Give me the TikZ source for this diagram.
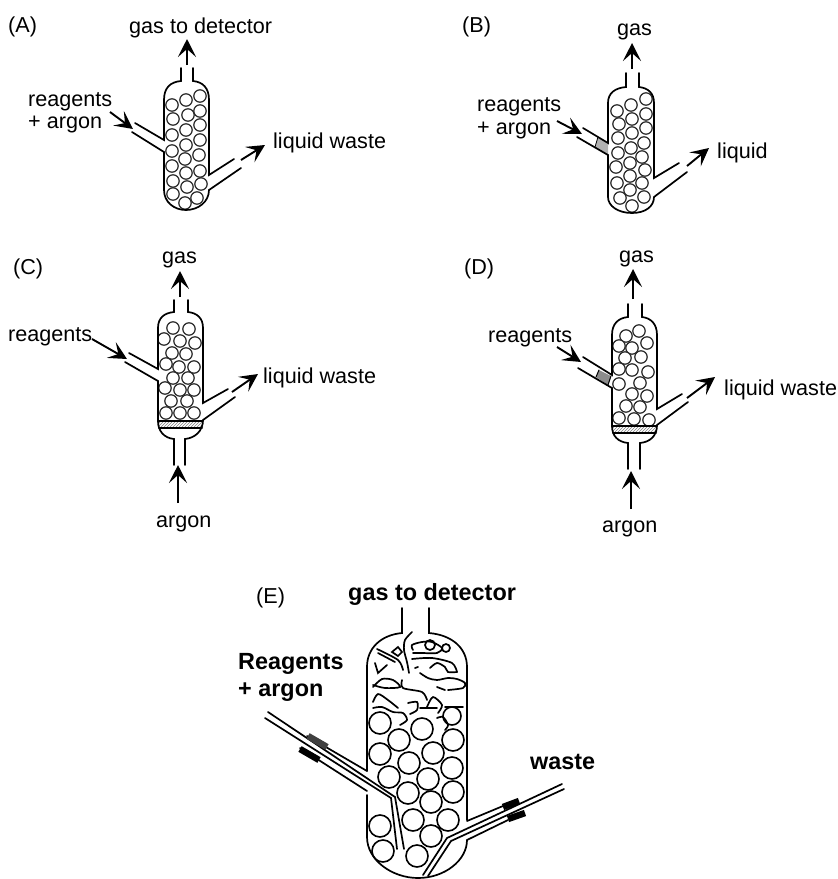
\documentclass[tikz,border=0pt]{standalone}
\usepackage{fontspec}
\setmainfont{Liberation Sans}
\usetikzlibrary{
  arrows.meta,
  patterns
}
\tikzset{
  wall/.style={draw, line width=1.7pt, line cap=round},
  bead/.style={draw=black!85, line width=1.2pt, fill=white},
  bigbead/.style={draw, line width=1.6pt},
  scrap/.style={draw, line width=1.7pt, line cap=round},
  sleeve/.style={draw, line width=6.5pt},
  flow/.style={-{Stealth[length=18pt, width=18pt, inset=8pt]}, line width=1.9pt},
  frit/.style={pattern=north east lines, pattern color=black!50},
  lbl/.style={anchor=base west, inner sep=0pt, font=\fontsize{21.6}{24}\selectfont},
  lblbold/.style={anchor=base west, inner sep=0pt, font=\fontsize{23.4}{26}\selectfont\bfseries}
}

\begin{document}
\begin{tikzpicture}[x=1pt, y=-1pt]
  \useasboundingbox (0,0) rectangle (838,879);

  % (A)
  \node[lbl] (panelA) at (8,32) {(A)};
  \node[lbl] (gasA) at (129,33) {gas to detector};
  \node[lbl] (reagA) at (28,106) {reagents};
  \node[lbl] (argA) at (28,128) {+ argon};
  \node[lbl] (wasteA) at (273,148) {liquid waste};
  \foreach \x/\y in {172/105,186/100,200/96,173/119,188/115,200/111,172/135,186/130,200/125,172/151,186/145,200/140,172/166,185/159,199/155,173/181,186/173,200/171,173/194,187/187,201/184,197/198,185/203}
    \draw[bead] (\x,\y) circle[radius=6.2pt];
  \draw[wall] (181,68) -- (181,81) .. controls (170,82) and (164,88) .. (164,100) -- (164,140) -- (135,123);
  \draw[wall] (132,132) -- (164,152) -- (164,190) .. controls (164,202) and (174,210) .. (186,210) .. controls (198,210) and (209,202) .. (209,190) -- (241,168);
  \draw[wall] (193,68) -- (193,81) .. controls (203,82) and (209,88) .. (209,100) -- (209,175) -- (234,159);
  \coordinate (a1) at (187,65);
  \coordinate (a2) at (187,39);
  \coordinate (a3) at (110,112);
  \coordinate (a4) at (133,129);
  \coordinate (a5) at (241,160);
  \coordinate (a6) at (265,145);
  \draw[flow] (a1) -- (a2);
  \draw[flow] (a3) -- (a4);
  \draw[flow] (a5) -- (a6);

  % (B)
  \node[lbl] (panelB) at (462,32) {(B)};
  \node[lbl] (gasB) at (617,35) {gas};
  \node[lbl] (reagB) at (477,111) {reagents};
  \node[lbl] (argB) at (477,134) {+ argon};
  \node[lbl] (wasteB) at (717,158) {liquid};
  \foreach \x/\y in {617/111,631/105,646/99,619/124,632/119,646/114,618/138,632/133,646/128,618/153,631/148,644/143,616/167,630/163,642/157,617/183,630/176,645/170,620/198,630/190,642/183,644/197,632/206}
    \draw[bead] (\x,\y) circle[radius=6.2pt];
  \fill[black!30] (598,137) -- (608,143) -- (608,155) -- (595,147) -- cycle;
  \draw[line width=0.8pt] (598,137) -- (595,147);
  \draw[wall] (626,73) -- (626,87) .. controls (615,88) and (608,93) .. (608,103) -- (608,143) -- (583,128);
  \draw[wall] (577,137) -- (608,155) -- (608,197) .. controls (608,206) and (618,213) .. (632,213) .. controls (646,213) and (654,206) .. (654,197) -- (687,172);
  \draw[wall] (639,73) -- (639,87) .. controls (648,88) and (654,93) .. (654,103) -- (654,178) -- (679,163);
  \coordinate (b1) at (632,69);
  \coordinate (b2) at (632,43);
  \coordinate (b3) at (557,121);
  \coordinate (b4) at (582,134);
  \coordinate (b5) at (687,166);
  \coordinate (b6) at (709,148);
  \draw[flow] (b1) -- (b2);
  \draw[flow] (b3) -- (b4);
  \draw[flow] (b5) -- (b6);

  % (C)
  \node[lbl] (panelC) at (13,274) {(C)};
  \node[lbl] (gasC) at (162,263) {gas};
  \node[lbl] (reagC) at (8,341) {reagents};
  \node[lbl] (wasteC) at (263,383) {liquid waste};
  \node[lbl] (argC) at (156,527) {argon};
  \foreach \x/\y in {173/328,189/329,164/339,180/341,195/343,172/353,186/354,166/364,179/367,194/367,173/378,188/378,165/388,180/390,194/390,171/401,187/401,166/413,180/413,194/413}
    \draw[bead] (\x,\y) circle[radius=6.2pt];
  \fill[frit] (158,421) rectangle (203,428);
  \draw[wall] (174,300) -- (174,312) .. controls (164,313) and (158,318) .. (158,328) -- (158,369) -- (129,353);
  \draw[wall] (125,362) -- (158,381) -- (158,421) .. controls (158,431) and (164,438) .. (174,439) -- (174,465);
  \draw[wall] (188,300) -- (188,312) .. controls (197,313) and (203,318) .. (203,328) -- (203,403) -- (228,389);
  \draw[wall] (235,397) -- (203,420) .. controls (203,431) and (195,438) .. (185,439) -- (185,465);
  \draw[wall] (158,421) -- (203,421) (159,428) -- (202,428);
  \coordinate (c1) at (180,297);
  \coordinate (c2) at (180,271);
  \coordinate (c3) at (92,339);
  \coordinate (c4) at (127,359);
  \coordinate (c5) at (232,392);
  \coordinate (c6) at (258,374);
  \coordinate (c7) at (178,503);
  \coordinate (c8) at (178,465);
  \draw[flow] (c1) -- (c2);
  \draw[flow] (c3) -- (c4);
  \draw[flow] (c5) -- (c6);
  \draw[flow] (c7) -- (c8);

  % (D)
  \node[lbl] (panelD) at (464,274) {(D)};
  \node[lbl] (gasD) at (619,262) {gas};
  \node[lbl] (reagD) at (488,342) {reagents};
  \node[lbl] (wasteD) at (724,395) {liquid waste};
  \node[lbl] (argD) at (602,532) {argon};
  \foreach \x/\y in {639/331,626/336,647/343,619/346,632/348,625/358,641/357,619/369,632/370,648/372,619/384,640/383,632/394,647/396,626/406,640/407,619/418,634/419,649/420}
    \draw[bead] (\x,\y) circle[radius=6.2pt];
  \fill[frit] (612,426) rectangle (657,433);
  \fill[black!45] (599,370) -- (611,376) -- (608,385) -- (596,377) -- cycle;
  \draw[wall, line width=1pt] (599,370) -- (596,377) (611,376) -- (608,385);
  \draw[wall] (628,304) -- (628,317) .. controls (618,318) and (612,324) .. (612,335) -- (612,375) -- (583,357);
  \draw[wall] (578,368) -- (612,388) -- (612,426) .. controls (612,436) and (618,442) .. (628,443) -- (628,469);
  \draw[wall] (642,304) -- (642,317) .. controls (651,318) and (657,324) .. (657,335) -- (657,409) -- (682,394);
  \draw[wall] (688,402) -- (657,425) .. controls (657,436) and (650,442) .. (640,443) -- (640,469);
  \draw[wall] (612,426) -- (657,426) (613,433) -- (656,433);
  \coordinate (d1) at (633,299);
  \coordinate (d2) at (633,269);
  \coordinate (d3) at (557,347);
  \coordinate (d4) at (581,362);
  \coordinate (d5) at (687,398);
  \coordinate (d6) at (715,377);
  \coordinate (d7) at (631,509);
  \coordinate (d8) at (631,471);
  \draw[flow] (d1) -- (d2);
  \draw[flow] (d3) -- (d4);
  \draw[flow] (d5) -- (d6);
  \draw[flow] (d7) -- (d8);

  % (E)
  \node[lbl] (panelE) at (256,603) {(E)};
  \node[lblbold] (gasE) at (348,600) {gas to detector};
  \node[lblbold] (reagE) at (238,669) {Reagents};
  \node[lblbold] (argE) at (238,696) {+ argon};
  \node[lblbold] (wasteE) at (530,769) {waste};
  \foreach \x/\y in {380/723,422/729,453/740,399/740,380/754,433/753,409/763,452/768,389/777,428/779,408/793,453/792,431/802,413/820,448/820,380/826,431/836,383/851,417/856}
    \draw[bigbead] (\x,\y) circle[radius=11pt];
  \draw[bigbead] (452,716) circle[radius=9pt];
  % packing scraps
  \draw[scrap] plot[smooth] coordinates {(377,649) (398,660) (403,670)};
  \draw[scrap] (378,653) -- (395,662);
  \draw[scrap] (392,652) -- (398,647) -- (402,652) -- (398,656) -- cycle;
  \draw[scrap] plot[smooth] coordinates {(412,632) (405,640) (404,650) (407,662) (409,673)};
  \draw[scrap] plot[smooth] coordinates {(413,650) (412,645) (422,642) (432,642) (442,648) (437,653) (422,653) (413,653)};
  \draw[scrap] (430,645) circle[radius=5pt];
  \draw[scrap] (446,648) circle[radius=4pt];
  \draw[scrap] plot[smooth] coordinates {(412,659) (432,658) (452,663) (457,672)};
  \draw[scrap] plot[smooth] coordinates {(430,668) (437,663) (445,667) (448,672) (457,672)};
  \draw[scrap] (375,663) -- (378,673) -- (387,665);
  \draw[scrap] (415,668) -- (418,667);
  \draw[scrap] plot[smooth] coordinates {(420,673) (428,678) (437,680) (448,678) (457,679) (465,683) (463,688) (448,690)};
  \draw[scrap] plot[smooth] coordinates {(373,687) (382,679) (393,680) (400,687) (385,688) (373,685)};
  \draw[scrap] plot[smooth] coordinates {(402,680) (403,688) (422,692) (427,700)};
  \draw[scrap] (437,687) -- (445,690);
  \draw[scrap] plot[smooth] coordinates {(373,702) (378,694) (388,700) (398,708)};
  \draw[scrap] plot[smooth] coordinates {(373,708) (382,707) (393,712) (403,713) (407,720) (400,725)};
  \draw[scrap] plot[smooth] coordinates {(408,703) (417,702) (417,710) (410,714)};
  \draw[scrap] plot[smooth] coordinates {(427,707) (433,697) (442,705) (438,713)};
  \draw[scrap] (420,708) -- (437,708);
  \draw[scrap] (445,707) -- (463,707);
  \draw[scrap] plot[smooth] coordinates {(437,718) (443,717) (448,725) (445,730)};
  % column
  \draw[wall] (402,608) -- (402,633) .. controls (381,635) and (367,648) .. (367,667) -- (367,771);
  \draw[wall] (429,608) -- (429,633) .. controls (452,635) and (467,648) .. (467,667) -- (467,820);
  \draw[wall] (367,795) -- (367,837) .. controls (367,860) and (392,878) .. (418,878) .. controls (445,878) and (467,860) .. (467,840);
  % tubes
  \draw[wall] (268,712) -- (395,797) -- (404,849);
  \draw[wall] (265,718) -- (391,798) -- (397,849);
  \draw[wall] (307,736) -- (367,771);
  \draw[wall] (300,748) -- (367,791);
  \draw[wall] (562,784) -- (447,838) -- (423,875);
  \draw[wall] (564,789) -- (451,841) -- (428,876);
  \draw[wall] (467,821) -- (503,806);
  \draw[wall] (467,840) -- (508,820);
  \draw[sleeve, black!75] (308,736) -- (327,747);
  \draw[sleeve] (300,749) -- (319,760);
  \draw[sleeve] (503,807) -- (519,801);
  \draw[sleeve] (508,819) -- (525,813);
\end{tikzpicture}
\end{document}
